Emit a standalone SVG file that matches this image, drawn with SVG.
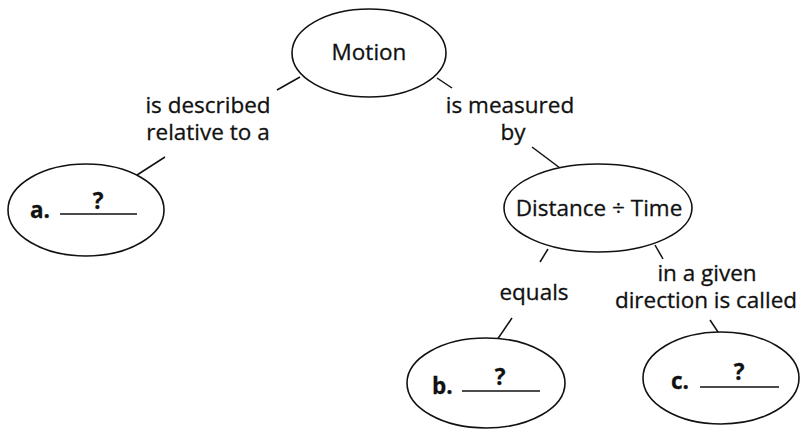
<svg xmlns="http://www.w3.org/2000/svg" width="800" height="431" viewBox="0 0 800 431">
<style>
.n{fill:#fff;stroke:#111;stroke-width:1.6}
.c line{stroke:#111;stroke-width:1.5}
text{font-family:"Open Sans","Noto Sans",sans-serif;font-size:22.5px;fill:#111;stroke:#111;stroke-width:0.3}
.t{text-anchor:middle}
.b{font-weight:bold}
.u{stroke:#111;stroke-width:1.6}
</style>
<rect width="800" height="431" fill="#fff"/>
<g class="c" id="connectors">
<line x1="300" y1="77" x2="277" y2="90"/>
<line x1="165" y1="157" x2="137" y2="175"/>
<line x1="437" y1="78" x2="452" y2="88"/>
<line x1="532" y1="147" x2="560" y2="168"/>
<line x1="548" y1="249" x2="540" y2="262"/>
<line x1="512" y1="318" x2="497" y2="340"/>
<line x1="655" y1="245" x2="663" y2="259"/>
<line x1="710" y1="320" x2="720" y2="335"/>
</g>
<g id="labels">
<text class="t" x="208" y="113">is described</text>
<text class="t" x="208" y="140">relative to a</text>
<text class="t" x="510" y="113">is measured</text>
<text class="t" x="513" y="140">by</text>
<text class="t" x="534" y="300">equals</text>
<text class="t" x="707" y="281">in a given</text>
<text class="t" x="706" y="308">direction is called</text>
</g>
<g id="motion">
<ellipse class="n" cx="369" cy="53" rx="77" ry="44"/>
<text class="t" x="369" y="60">Motion</text>
</g>
<g id="a">
<ellipse class="n" cx="86" cy="210" rx="78" ry="46"/>
<text class="b" x="30" y="218">a.</text>
<line class="u" x1="60" y1="214" x2="137" y2="214"/>
<text class="t b" x="98" y="209">?</text>
</g>
<g id="distance">
<ellipse class="n" cx="598" cy="208" rx="94" ry="44"/>
<text class="t" x="599" y="216">Distance ÷ Time</text>
</g>
<g id="b">
<ellipse class="n" cx="486" cy="383" rx="79" ry="45"/>
<text class="b" x="432" y="394">b.</text>
<line class="u" x1="462" y1="391" x2="540" y2="391"/>
<text class="t b" x="500" y="385">?</text>
</g>
<g id="c">
<ellipse class="n" cx="721" cy="378" rx="78" ry="46"/>
<text class="b" x="671" y="389">c.</text>
<line class="u" x1="700" y1="387" x2="779" y2="387"/>
<text class="t b" x="739" y="380">?</text>
</g>
</svg>
